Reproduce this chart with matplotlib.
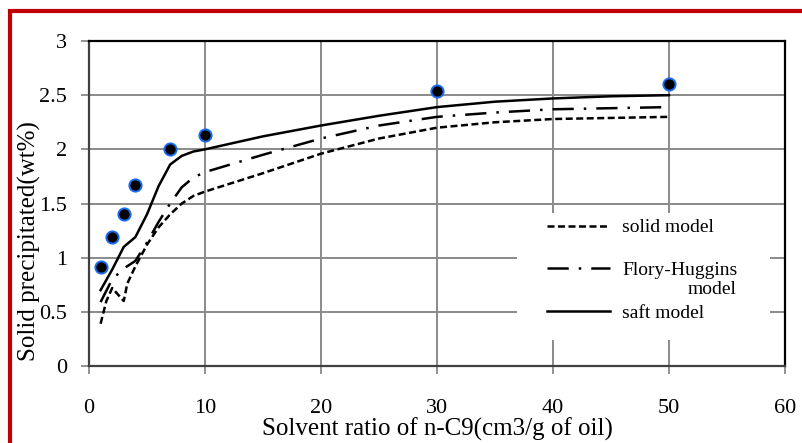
import matplotlib
matplotlib.use('Agg')
import matplotlib.pyplot as plt
from matplotlib.patches import Rectangle

plt.rcParams['font.family'] = ['Liberation Serif', 'DejaVu Serif']

# experimental points
exp_x = [1, 2, 3, 4, 7, 10, 30, 50]
exp_y = [0.91, 1.19, 1.40, 1.67, 2.00, 2.13, 2.54, 2.60]

# model curves
solid_x = [1, 1.5, 2, 2.5, 3, 3.3, 4, 5, 6, 7, 8, 9, 10, 15, 20, 25, 30, 35, 40, 45, 50]
solid_y = [0.39, 0.60, 0.72, 0.66, 0.60, 0.76, 0.92, 1.12, 1.28, 1.40, 1.50, 1.57, 1.61,
           1.78, 1.96, 2.10, 2.20, 2.25, 2.28, 2.29, 2.30]

fh_x = [1, 2, 3, 4, 5, 6, 7, 8, 9, 10, 15, 20, 25, 30, 35, 40, 45, 50]
fh_y = [0.59, 0.80, 0.90, 0.97, 1.14, 1.33, 1.50, 1.65, 1.74, 1.79, 1.95, 2.10, 2.22,
        2.30, 2.34, 2.37, 2.38, 2.39]

saft_x = [1, 2, 3, 4, 5, 6, 7, 8, 9, 10, 15, 20, 25, 30, 35, 40, 45, 50]
saft_y = [0.70, 0.89, 1.10, 1.19, 1.40, 1.66, 1.86, 1.94, 1.98, 2.00, 2.12, 2.22, 2.31,
          2.39, 2.44, 2.47, 2.49, 2.50]

fig = plt.figure(figsize=(8.03, 4.43), dpi=100)
ax = fig.add_axes([0.1108, 0.1738, 0.8668, 0.7336])

ax.plot(solid_x, solid_y, color='black', lw=1.8, dashes=(2.8, 1.4), label='solid model', zorder=3)
ax.plot(fh_x, fh_y, color='black', lw=1.8, dashes=(8.5, 4, 1, 4), label='Flory-Huggins', zorder=3)
ax.plot(saft_x, saft_y, color='black', lw=1.8, label='saft model', zorder=3)
ax.plot(exp_x, exp_y, 'o', ms=8.8, mfc='black', mec='#1a6cf0', mew=1.4, zorder=4)

ax.set_xlim(0, 60)
ax.set_ylim(0, 3)
ax.set_xticks(range(0, 61, 10))
ax.set_yticks([0, 0.5, 1, 1.5, 2, 2.5, 3])
ax.set_yticklabels(['0', '0.5', '1', '1.5', '2', '2.5', '3'])
ax.grid(True, color='#8a8a8a', lw=1.4)
ax.set_axisbelow(True)
ax.tick_params(labelsize=16, length=6, width=1.2, color='#808080', direction='out')
ax.tick_params(axis='x', pad=18)
ax.tick_params(axis='y', pad=10)
for s in ['top', 'right']:
    ax.spines[s].set_color('black')
    ax.spines[s].set_linewidth(1.6)
for s in ['left', 'bottom']:
    ax.spines[s].set_color('#404040')
    ax.spines[s].set_linewidth(1.6)

ax.set_xlabel('Solvent ratio of n-C9(cm3/g of oil)', fontsize=18)
ax.set_ylabel('Solid precipitated(wt%)', fontsize=18)
ax.xaxis.set_label_coords(0.5, -0.16)
ax.yaxis.set_label_coords(-0.069, 0.385)

# white area behind the legend
ax.add_patch(Rectangle((0.615, 0.08), 0.363, 0.391, transform=ax.transAxes,
                       facecolor='white', edgecolor='none', zorder=1))
leg = ax.legend(loc='upper left', bbox_to_anchor=(0.658, 0.453), fontsize=14,
                handlelength=3.25, handletextpad=0.62, labelspacing=1.3,
                frameon=False, borderpad=0, borderaxespad=0)
ax.text(0.931, 0.234, 'model', transform=ax.transAxes, fontsize=14,
        ha='right', va='center', zorder=5)

# red frame around the figure
fig.add_artist(Rectangle((10 / 803, -0.1), 1.2, 1.1 - 11 / 443,
                         transform=fig.transFigure, fill=False,
                         edgecolor='#c00000', lw=3))

fig.savefig('out.png', dpi=100)
